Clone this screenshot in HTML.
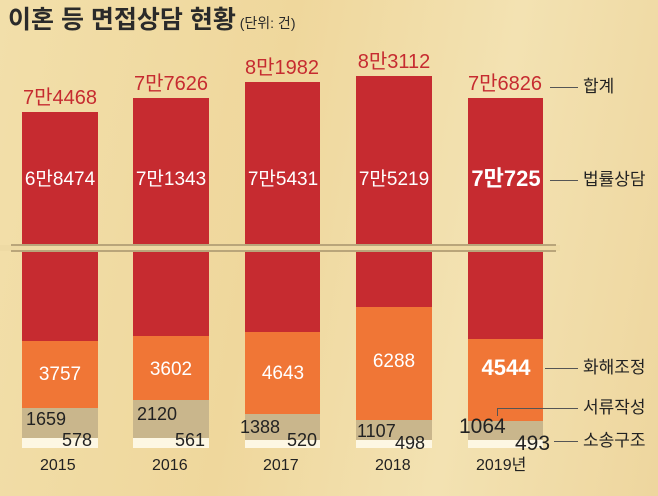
<!DOCTYPE html>
<html><head><meta charset="utf-8"><style>
body{margin:0}
#c{position:relative;width:658px;height:496px;overflow:hidden;background:linear-gradient(100deg,#f2dfaa 0%,#efd79c 40%,#f3e2b2 70%,#eed69e 100%);font-family:"Liberation Sans","Noto Sans CJK KR",sans-serif}
.b{position:absolute}
.t{position:absolute;white-space:nowrap;line-height:1}
.r{background:#c62b30}.o{background:#f07636}.g{background:#c9b68c}.w{background:#fdf7e3}
.wt{color:#fff;font-size:19px;text-align:center;width:76px}
.rt{color:#c62b30;font-size:20px;text-align:center;width:100px}
.dt{color:#222;font-size:18px}
.lg{color:#222;font-size:17px;left:583px}
.ln{position:absolute;height:1px;background:#555}
</style></head><body><div id="c">
<div class="t" style="left:8px;top:8px;font-size:25px;color:#2a2a2a;font-weight:bold">이혼 등 면접상담 현황<span style="font-size:14px;font-weight:normal"> (단위: 건)</span></div>

<!-- bars: x, top, orangeTop, beigeTop, whiteTop -->
<div class="b r" style="left:22px;top:112px;width:76px;height:229px"></div>
<div class="b o" style="left:22px;top:341px;width:76px;height:67px"></div>
<div class="b g" style="left:22px;top:408px;width:76px;height:30px"></div>
<div class="b w" style="left:22px;top:438px;width:76px;height:10px"></div>

<div class="b r" style="left:133px;top:98px;width:76px;height:238px"></div>
<div class="b o" style="left:133px;top:336px;width:76px;height:64px"></div>
<div class="b g" style="left:133px;top:400px;width:76px;height:38px"></div>
<div class="b w" style="left:133px;top:438px;width:76px;height:10px"></div>

<div class="b r" style="left:245px;top:82px;width:75px;height:250px"></div>
<div class="b o" style="left:245px;top:332px;width:75px;height:82px"></div>
<div class="b g" style="left:245px;top:414px;width:75px;height:26px"></div>
<div class="b w" style="left:245px;top:440px;width:75px;height:8px"></div>

<div class="b r" style="left:356px;top:76px;width:76px;height:231px"></div>
<div class="b o" style="left:356px;top:307px;width:76px;height:113px"></div>
<div class="b g" style="left:356px;top:420px;width:76px;height:20px"></div>
<div class="b w" style="left:356px;top:440px;width:76px;height:8px"></div>

<div class="b r" style="left:468px;top:98px;width:75px;height:241px"></div>
<div class="b o" style="left:468px;top:339px;width:75px;height:82px"></div>
<div class="b g" style="left:468px;top:421px;width:75px;height:19px"></div>
<div class="b w" style="left:468px;top:440px;width:75px;height:8px"></div>

<!-- break -->
<div class="b" style="left:0;top:245px;width:560px;height:6px;background:#eedaa4"></div>
<div class="b" style="left:11px;top:244px;width:545px;height:2px;background:#b9a57a"></div>
<div class="b" style="left:11px;top:250px;width:545px;height:2px;background:#b9a57a"></div>

<!-- totals -->
<div class="t rt" style="left:10px;top:88px">7만4468</div>
<div class="t rt" style="left:121px;top:74px">7만7626</div>
<div class="t rt" style="left:232px;top:58px">8만1982</div>
<div class="t rt" style="left:344px;top:52px">8만3112</div>
<div class="t rt" style="left:455px;top:74px">7만6826</div>

<div class="t wt" style="left:22px;top:170px">6만8474</div>
<div class="t wt" style="left:133px;top:170px">7만1343</div>
<div class="t wt" style="left:245px;top:170px">7만5431</div>
<div class="t wt" style="left:356px;top:170px">7만5219</div>
<div class="t wt" style="left:463px;top:168px;font-size:22px;font-weight:bold;width:86px">7만725</div>

<div class="t wt" style="left:22px;top:365px">3757</div>
<div class="t wt" style="left:133px;top:360px">3602</div>
<div class="t wt" style="left:245px;top:364px">4643</div>
<div class="t wt" style="left:356px;top:352px">6288</div>
<div class="t wt" style="left:468px;top:357px;font-size:22px;font-weight:bold">4544</div>

<div class="t dt" style="left:26px;top:410px">1659</div>
<div class="t dt" style="left:62px;top:431px">578</div>
<div class="t dt" style="left:137px;top:405px">2120</div>
<div class="t dt" style="left:175px;top:431px">561</div>
<div class="t dt" style="left:240px;top:418px">1388</div>
<div class="t dt" style="left:287px;top:431px">520</div>
<div class="t dt" style="left:357px;top:422px">1107</div>
<div class="t dt" style="left:395px;top:434px">498</div>
<div class="t dt" style="left:459px;top:416px;font-size:21px">1064</div>
<div class="t dt" style="left:515px;top:433px;font-size:21px">493</div>

<div class="t" style="left:40px;top:458px;font-size:16px;color:#222">2015</div>
<div class="t" style="left:152px;top:458px;font-size:16px;color:#222">2016</div>
<div class="t" style="left:263px;top:458px;font-size:16px;color:#222">2017</div>
<div class="t" style="left:375px;top:458px;font-size:16px;color:#222">2018</div>
<div class="t" style="left:476px;top:458px;font-size:16px;color:#222">2019년</div>

<!-- legend -->
<div class="ln" style="left:550px;top:87px;width:28px"></div>
<div class="ln" style="left:550px;top:180px;width:28px"></div>
<div class="ln" style="left:545px;top:368px;width:33px"></div>
<div class="ln" style="left:497px;top:408px;width:81px"></div>
<div class="b" style="left:497px;top:408px;width:1px;height:8px;background:#555"></div>
<div class="ln" style="left:554px;top:441px;width:24px"></div>
<div class="t lg" style="top:78px">합계</div>
<div class="t lg" style="top:171px">법률상담</div>
<div class="t lg" style="top:359px">화해조정</div>
<div class="t lg" style="top:399px">서류작성</div>
<div class="t lg" style="top:432px">소송구조</div>
</div></body></html>
